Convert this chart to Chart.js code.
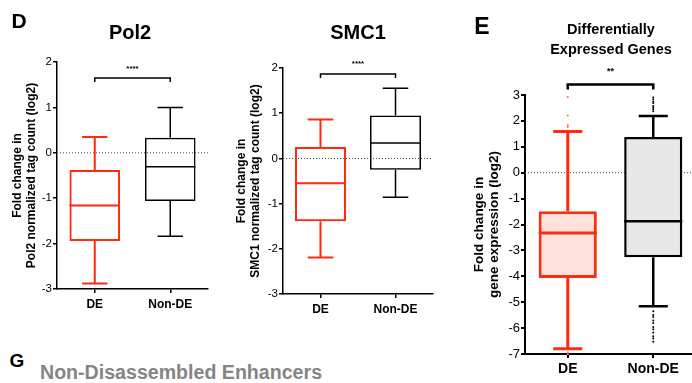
<!DOCTYPE html>
<html><head><meta charset="utf-8">
<script src="https://cdn.jsdelivr.net/npm/chart.js@4.4.0/dist/chart.umd.min.js"></script>
<style>
html,body{margin:0;padding:0;background:#fff;overflow:hidden;width:692px;height:383px;}
body{position:relative;font-family:"Liberation Sans",Arial,sans-serif;}
canvas{position:absolute;}
.t{position:absolute;font-weight:bold;color:#000;white-space:nowrap;transform:translate(-50%,-50%);text-align:center;line-height:1;}
.l{position:absolute;font-weight:bold;white-space:nowrap;line-height:1;transform:translate(0,-50%);}
</style></head><body>
<canvas id="c1" width="220" height="330" style="left:0;top:0"></canvas>
<canvas id="c2" width="225" height="330" style="left:220px;top:0"></canvas>
<canvas id="c3" width="250" height="383" style="left:450px;top:0"></canvas>
<div class="t" style="left:19px;top:20px;font-size:21px">D</div>
<div class="t" style="left:130px;top:32px;font-size:20px">Pol2</div>
<div class="t" style="left:358px;top:32px;font-size:20px">SMC1</div>
<div class="t" style="left:482px;top:26px;font-size:23px">E</div>
<div class="t" style="left:611px;top:29px;font-size:14.5px">Differentially</div>
<div class="t" style="left:611px;top:48.5px;font-size:14.5px">Expressed Genes</div>
<div class="t" style="left:17px;top:360px;font-size:19px">G</div>
<div class="l" style="left:40px;top:373px;font-size:19.6px;color:#858585">Non-Disassembled Enhancers</div>
<script>
// ---- data ----
const categories = ['DE', 'Non-DE'];

const pol2Min    = [-2.88, -1.84];
const pol2Q1     = [-1.94, -1.06];
const pol2Median = [-1.16, -0.31];
const pol2Q3     = [-0.38, 0.33];
const pol2Max    = [0.35, 1.00];

const smc1Min    = [-2.19, -0.86];
const smc1Q1     = [-1.39, -0.25];
const smc1Median = [-0.55, 0.34];
const smc1Q3     = [0.25, 0.95];
const smc1Max    = [0.86, 1.55];

const degMin    = [-6.80, -5.16];
const degQ1     = [-4.07, -3.26];
const degMedian = [-2.33, -1.87];
const degQ3     = [-1.49, 1.38];
const degMax    = [1.59, 2.19];

const degOutliersDE    = [2.92, 2.21, 1.83, 1.76, -6.93, -6.97, -7.0];
const degOutliersNonDE = [2.9, 2.83, 2.74, 2.69, 2.58, 2.51, 2.45, 2.37,
                          -5.35, -5.49, -5.57, -5.71, -5.8, -5.96, -6.04, -6.17, -6.31, -6.4, -6.53];

const yTicksTag  = [-3, -2, -1, 0, 1, 2];
const yTicksExpr = [-7, -6, -5, -4, -3, -2, -1, 0, 1, 2, 3];

const sigLabels = ['****', '****', '**'];
const sigLevels = [1.65, 1.87, 3.41];

const yTitlePol2 = ['Fold change in', 'Pol2 normalized tag count (log2)'];
const yTitleSmc1 = ['Fold change in', 'SMC1 normalized tag count (log2)'];
const yTitleDeg  = ['Fold change in', 'gene expression (log2)'];

// ---- style ----
const FONT = '"Liberation Sans", Arial, sans-serif';
const RED = '#FF2B0F';

const boxPlugin = {
  id: 'boxWhiskers',
  beforeDatasetsDraw(chart, args, o) {
    const ctx = chart.ctx, ys = chart.scales.y, a = chart.chartArea;
    const y0 = ys.getPixelForValue(0);
    ctx.save();
    ctx.strokeStyle = '#444';
    ctx.lineWidth = 1;
    ctx.setLineDash([1, 2]);
    ctx.beginPath();
    ctx.moveTo(a.left, y0);
    ctx.lineTo(o.zeroToEdge ? chart.width : a.right, y0);
    ctx.stroke();
    ctx.restore();
  },
  afterDatasetsDraw(chart, args, o) {
    const ctx = chart.ctx, xs = chart.scales.x, ys = chart.scales.y;
    const meta = chart.getDatasetMeta(0);
    ctx.save();
    ctx.lineCap = 'butt';
    categories.forEach((c, i) => {
      const x = xs.getPixelForValue(i);
      const half = meta.data[i].width / 2;
      const capHalf = half / 2;
      ctx.strokeStyle = o.colors[i];
      ctx.lineWidth = o.lineWidths[i];
      ctx.beginPath();
      ctx.moveTo(x, ys.getPixelForValue(o.q3[i]));
      ctx.lineTo(x, ys.getPixelForValue(o.max[i]));
      ctx.moveTo(x - capHalf, ys.getPixelForValue(o.max[i]));
      ctx.lineTo(x + capHalf, ys.getPixelForValue(o.max[i]));
      ctx.moveTo(x, ys.getPixelForValue(o.q1[i]));
      ctx.lineTo(x, ys.getPixelForValue(o.min[i]));
      ctx.moveTo(x - capHalf, ys.getPixelForValue(o.min[i]));
      ctx.lineTo(x + capHalf, ys.getPixelForValue(o.min[i]));
      ctx.moveTo(x - half, ys.getPixelForValue(o.median[i]));
      ctx.lineTo(x + half, ys.getPixelForValue(o.median[i]));
      ctx.stroke();
    });
    ctx.restore();
  },
  afterDraw(chart, args, o) {
    const ctx = chart.ctx, xs = chart.scales.x, ys = chart.scales.y;
    const x1 = xs.getPixelForValue(0), x2 = xs.getPixelForValue(1);
    const y = ys.getPixelForValue(o.sigLevel);
    ctx.save();
    ctx.strokeStyle = '#000';
    ctx.lineWidth = o.sigWidth;
    ctx.beginPath();
    ctx.moveTo(x1, y + o.legLen);
    ctx.lineTo(x1, y);
    ctx.lineTo(x2, y);
    ctx.lineTo(x2, y + o.legLen);
    ctx.stroke();
    ctx.fillStyle = '#000';
    ctx.font = 'bold ' + o.sigFontSize + 'px ' + FONT;
    ctx.textAlign = 'center';
    ctx.textBaseline = 'middle';
    ctx.fillText(o.sigLabel, (x1 + x2) / 2, y - o.sigGap);
    ctx.restore();
  }
};

function makeChart(id, p) {
  const datasets = [{
    type: 'bar',
    data: categories.map((c, i) => [p.q1[i], p.q3[i]]),
    backgroundColor: p.fills,
    borderColor: p.colors,
    borderWidth: p.lineWidths,
    borderSkipped: false,
    barPercentage: p.barPct,
    categoryPercentage: 1
  }];
  (p.outliers || []).forEach((arr, i) => {
    datasets.push({
      type: 'scatter',
      data: arr.map(v => ({x: categories[i], y: v})),
      pointRadius: 1,
      pointBorderWidth: 0,
      pointBackgroundColor: p.dotColors[i],
      clip: false
    });
  });
  return new Chart(document.getElementById(id), {
    type: 'bar',
    data: {labels: categories, datasets},
    plugins: [boxPlugin],
    options: {
      responsive: false,
      animation: false,
      events: [],
      layout: {padding: {top: p.padTop, right: p.padRight, left: 0, bottom: 0}},
      plugins: {
        legend: {display: false},
        tooltip: {enabled: false},
        boxWhiskers: {
          colors: p.colors, lineWidths: p.lineWidths,
          min: p.min, q1: p.q1, median: p.median, q3: p.q3, max: p.max,
          sigLabel: p.sigLabel, sigLevel: p.sigLevel, sigWidth: p.sigWidth,
          legLen: p.legLen, sigGap: p.sigGap, sigFontSize: p.sigFontSize,
          zeroToEdge: p.zeroToEdge
        }
      },
      scales: {
        x: {
          type: 'category',
          offset: true,
          grid: {display: true, drawOnChartArea: false, drawTicks: true, tickLength: 4,
                 color: '#000', lineWidth: p.axisWidth, offset: false},
          border: {display: true, color: '#000', width: p.axisWidth},
          ticks: {color: '#000', padding: p.xPad, maxRotation: 0,
                  font: {family: FONT, size: p.xFont, weight: 'bold'}},
          afterFit(s) { s.height = p.xHeight; }
        },
        y: {
          type: 'linear',
          min: p.yTicks[0], max: p.yTicks[p.yTicks.length - 1],
          afterBuildTicks(s) { s.ticks = p.yTicks.map(v => ({value: v})); },
          grid: {display: true, drawOnChartArea: false, drawTicks: true, tickLength: 4,
                 color: '#000', lineWidth: p.axisWidth},
          border: {display: true, color: '#000', width: p.axisWidth},
          ticks: {color: '#000', padding: 1, font: {family: FONT, size: p.yFont}},
          title: {display: true, text: p.yTitle, color: '#000',
                  font: {family: FONT, size: p.yTitleFont, weight: 'bold', lineHeight: p.yTitleLH},
                  padding: {top: p.yTitlePad, bottom: 0}},
          afterFit(s) { s.width = p.yWidth; }
        }
      }
    }
  });
}

makeChart('c1', {
  min: pol2Min, q1: pol2Q1, median: pol2Median, q3: pol2Q3, max: pol2Max,
  colors: [RED, '#000'], fills: ['rgba(0,0,0,0)', 'rgba(0,0,0,0)'], lineWidths: [2, 1.5],
  barPct: 0.67, yTicks: yTicksTag, yTitle: yTitlePol2,
  padTop: 62, padRight: 12, xHeight: 41, yWidth: 57, axisWidth: 1.5,
  xFont: 12, xPad: 4, yFont: 11.5, yTitleFont: 12, yTitleLH: 1.15, yTitlePad: 11,
  sigLabel: sigLabels[0], sigLevel: sigLevels[0], sigWidth: 1.5, legLen: 4, sigGap: 9, sigFontSize: 8
});

makeChart('c2', {
  min: smc1Min, q1: smc1Q1, median: smc1Median, q3: smc1Q3, max: smc1Max,
  colors: [RED, '#000'], fills: ['rgba(0,0,0,0)', 'rgba(0,0,0,0)'], lineWidths: [2, 1.5],
  barPct: 0.68, yTicks: yTicksTag, yTitle: yTitleSmc1,
  padTop: 68, padRight: 12, xHeight: 36, yWidth: 63, axisWidth: 1.5,
  xFont: 12, xPad: 4, yFont: 11.5, yTitleFont: 12, yTitleLH: 1.15, yTitlePad: 15,
  sigLabel: sigLabels[1], sigLevel: sigLevels[1], sigWidth: 1.5, legLen: 4, sigGap: 10, sigFontSize: 8
});

makeChart('c3', {
  min: degMin, q1: degQ1, median: degMedian, q3: degQ3, max: degMax,
  colors: [RED, '#000'], fills: ['#FFE1DD', '#E8E8E8'], lineWidths: [3, 2.5],
  barPct: 0.68, yTicks: yTicksExpr, yTitle: yTitleDeg,
  outliers: [degOutliersDE, degOutliersNonDE], dotColors: ['#FF6A5A', '#000'],
  padTop: 95, padRight: 3, xHeight: 29, yWidth: 75, axisWidth: 2,
  xFont: 14, xPad: 3, yFont: 13, yTitleFont: 13.5, yTitleLH: 1.12, yTitlePad: 22,
  sigLabel: sigLabels[2], sigLevel: sigLevels[2], sigWidth: 2.5, legLen: 5, sigGap: 13, sigFontSize: 9,
  zeroToEdge: true
});
</script>
</body></html>
